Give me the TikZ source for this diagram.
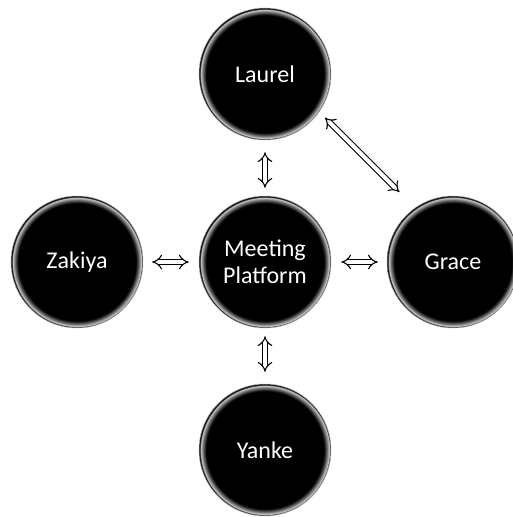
\documentclass[tikz,border=0pt]{standalone}
\usepackage{fontspec}
\setsansfont{Carlito}
\usepackage{tikz}
\usetikzlibrary{positioning, arrows.meta}

\pgfdeclareradialshading{ballrim}{\pgfpoint{0cm}{0cm}}{color(0bp)=(black); color(22.3bp)=(black); color(23.7bp)=(black!50); color(24.3bp)=(black!20); color(24.8bp)=(black); color(50bp)=(black)}

\begin{document}
\begin{tikzpicture}[node distance={188pt}, main/.style = {circle, minimum size=132pt, inner sep=0pt, shading=ballrim, draw=black!30, line width=0.5pt, text=white, font=\sffamily\fontsize{24}{27}\selectfont, align=center}, link/.style = {double, double distance=4pt, line width=1.1pt, {Implies[scale=1.6]}-{Implies[scale=1.6]}}]

    \useasboundingbox (-265pt,-255pt) rectangle (248pt,262pt);

    \node[main] (mp) {Meeting\\Platform};
    \node[main] (laurel) [above of=mp] {Laurel};
    \node[main] (zakiya) [left of=mp] {Zakiya};
    \node[main] (grace) [right of=mp] {Grace};
    \node[main] (yanke) [below of=mp] {Yanke};

    \draw[link, shorten <=12pt, shorten >=8pt] (laurel.south) -- (mp.north);
    \draw[link, shorten <=8pt, shorten >=12pt] (mp.south) -- (yanke.north);
    \draw[link, shorten <=9pt, shorten >=10pt] (zakiya.east) -- (mp.west);
    \draw[link, shorten <=10pt, shorten >=9pt] (mp.east) -- (grace.west);
    \draw[link, shorten <=8pt, shorten >=22pt] (laurel.-35) -- (grace.125);

\end{tikzpicture}
\end{document}
